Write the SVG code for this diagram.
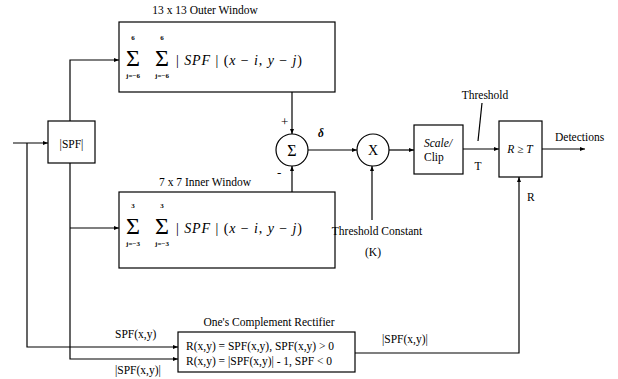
<svg xmlns="http://www.w3.org/2000/svg" width="618" height="379" viewBox="0 0 618 379">
<defs>
<marker id="ah" viewBox="0 0 10 10" refX="10" refY="5" markerWidth="5" markerHeight="5" orient="auto" markerUnits="userSpaceOnUse">
<path d="M0,1 L10,5 L0,9 Z" fill="#000"/>
</marker>
<style>
.box{fill:#fff;stroke:#000;stroke-width:1.2}
.ln{fill:none;stroke:#000;stroke-width:1.2}
.ar{fill:none;stroke:#000;stroke-width:1.2;marker-end:url(#ah)}
text{font-family:"Liberation Serif","DejaVu Serif",serif;font-size:11.5px;fill:#000}
.m{font-style:italic}
.f{font-size:14px}
.big{font-size:24px}
.sm{font-size:7px;font-weight:bold}
.mid{text-anchor:middle}
</style>
</defs>
<rect width="618" height="379" fill="#fff"/>

<g id="connectors">
<path class="ar" d="M13,143 H48"/>
<path class="ar" d="M27,143 V347 H178"/>
<path class="ar" d="M70,121 V60 H119"/>
<path class="ar" d="M70,163 V359 H178"/>
<path class="ar" d="M70,228 H119"/>
<path class="ar" d="M292,92 V134"/>
<path class="ar" d="M292,192 V166"/>
<path class="ar" d="M308,150 H357"/>
<path class="ar" d="M389,150 H414"/>
<path class="ar" d="M463,149 H499"/>
<path class="ar" d="M542,149 H585"/>
<path class="ar" d="M372,220 V166"/>
<path class="ar" d="M355,353 H519 V177"/>
<path class="ln" d="M482,103 L478,141"/>
</g>

<g id="ispf">
<rect class="box" x="48" y="121" width="47" height="42"/>
<text class="mid" x="71.5" y="148">|SPF|</text>
</g>

<g id="outer-window">
<text class="mid" x="205" y="14">13 x 13 Outer Window</text>
<rect class="box" x="119" y="22" width="216" height="70"/>
<text class="big mid" x="133" y="66">Σ</text>
<text class="big mid" x="162" y="66">Σ</text>
<text class="sm mid" x="133" y="40">6</text>
<text class="sm mid" x="162" y="40">6</text>
<text class="sm mid" x="133" y="78">j=−6</text>
<text class="sm mid" x="162" y="78">j=−6</text>
<text class="f" x="176" y="65" textLength="126" lengthAdjust="spacing"><tspan>| </tspan><tspan class="m">SPF</tspan><tspan> | (</tspan><tspan class="m">x</tspan><tspan> − </tspan><tspan class="m">i</tspan><tspan>, </tspan><tspan class="m">y</tspan><tspan> − </tspan><tspan class="m">j</tspan><tspan>)</tspan></text>
</g>

<g id="inner-window">
<text class="mid" x="205" y="186">7 x 7 Inner Window</text>
<rect class="box" x="119" y="192" width="216" height="76"/>
<text class="big mid" x="133" y="234">Σ</text>
<text class="big mid" x="162" y="234">Σ</text>
<text class="sm mid" x="133" y="208">3</text>
<text class="sm mid" x="162" y="208">3</text>
<text class="sm mid" x="133" y="246">j=−3</text>
<text class="sm mid" x="162" y="246">j=−3</text>
<text class="f" x="176" y="233" textLength="126" lengthAdjust="spacing"><tspan>| </tspan><tspan class="m">SPF</tspan><tspan> | (</tspan><tspan class="m">x</tspan><tspan> − </tspan><tspan class="m">i</tspan><tspan>, </tspan><tspan class="m">y</tspan><tspan> − </tspan><tspan class="m">j</tspan><tspan>)</tspan></text>
</g>

<g id="sum">
<circle class="box" cx="292" cy="150" r="16"/>
<text class="mid" x="292" y="156" style="font-size:16px">Σ</text>
<text x="281" y="126" style="font-size:13px">+</text>
<text x="277" y="177" style="font-size:13px">-</text>
<text class="m" x="318" y="137" style="font-weight:bold">δ</text>
</g>

<g id="multiply">
<circle class="box" cx="373" cy="150" r="16"/>
<text class="mid" x="373" y="155" style="font-size:14px">X</text>
<text class="mid" x="377" y="235">Threshold Constant</text>
<text class="mid" x="373" y="256">(K)</text>
</g>

<g id="scale-clip">
<rect class="box" x="414" y="125" width="49" height="49"/>
<text x="424" y="147" class="m">Scale/</text>
<text x="424" y="161">Clip</text>
<text class="mid" x="485" y="99">Threshold</text>
<text class="mid" x="478" y="170">T</text>
</g>

<g id="compare">
<rect class="box" x="499" y="121" width="43" height="56"/>
<text class="mid m" x="520" y="153">R ≥ T</text>
<text x="555" y="141">Detections</text>
<text x="527" y="201">R</text>
</g>

<g id="rectifier">
<text class="mid" x="269" y="326">One's Complement Rectifier</text>
<rect class="box" x="178" y="332" width="177" height="40"/>
<text x="186" y="350">R(x,y) = SPF(x,y), SPF(x,y) &gt; 0</text>
<text x="186" y="365">R(x,y) = |SPF(x,y)| - 1, SPF &lt; 0</text>
<text x="115" y="338">SPF(x,y)</text>
<text x="115" y="374">|SPF(x,y)|</text>
<text x="382" y="343">|SPF(x,y)|</text>
</g>
</svg>
